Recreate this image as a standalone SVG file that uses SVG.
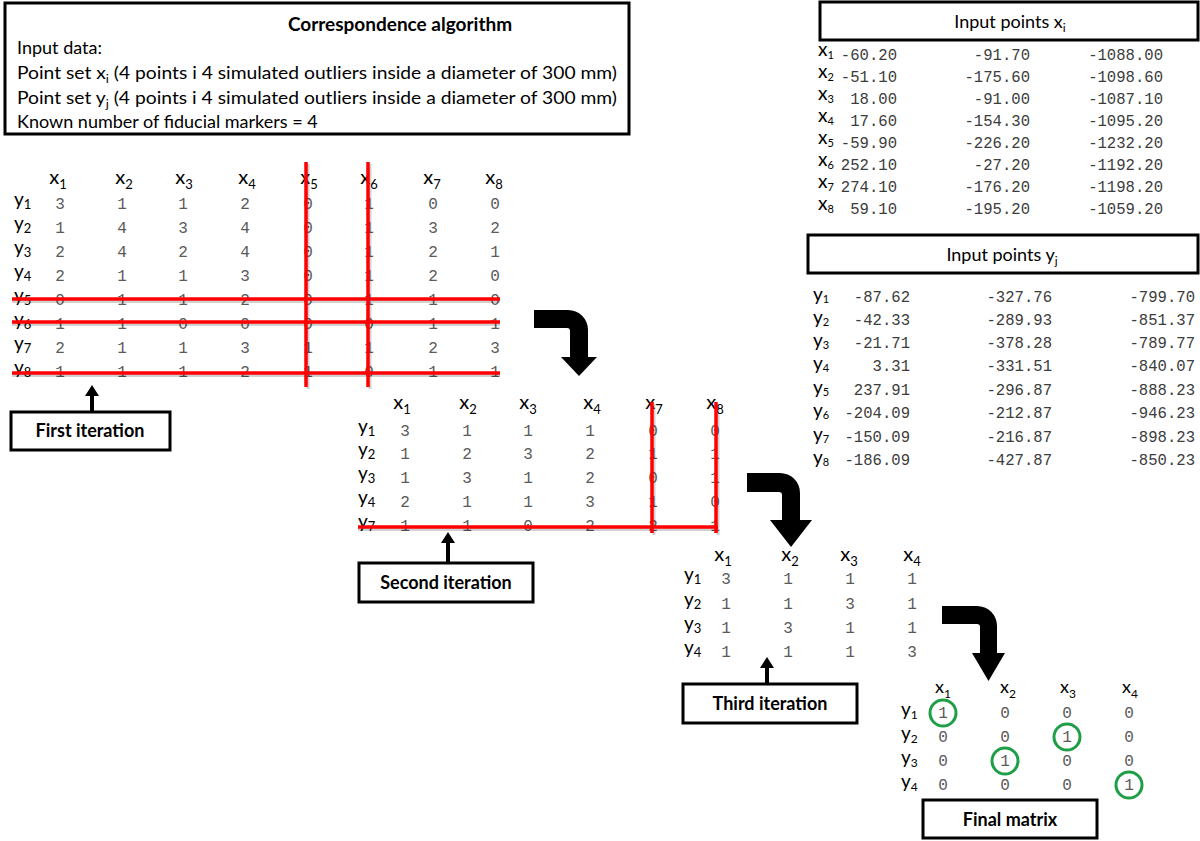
<svg xmlns="http://www.w3.org/2000/svg" width="1200" height="841" viewBox="0 0 1200 841">
<style>
.box{fill:#fff;stroke:#000;stroke-width:3}
.t{font-family:Lato,"Liberation Sans",sans-serif;fill:#000}
.b{font-weight:bold}
.h{font-family:Lato,"Liberation Sans",sans-serif;font-size:20px;fill:#000;text-anchor:middle}
.r{font-family:Lato,"Liberation Sans",sans-serif;font-size:19px;fill:#000}
.v{font-family:"Liberation Mono",monospace;font-size:16px;fill:#5a5a5a;text-anchor:middle}
.m{font-family:"Liberation Mono",monospace;font-size:15.6px;fill:#3c3c3c;text-anchor:end}
.red{stroke:#ff0000;stroke-width:3.5;fill:none}
.sh{stroke:#000;stroke-opacity:0.18;stroke-width:3;fill:none}
.circ{fill:none;stroke:#1f9e48;stroke-width:3}
</style>
<rect width="1200" height="841" fill="#fff"/>

<g id="header-box">
<rect class="box" x="5" y="3" width="624" height="131"/>
<text class="t b" x="400" y="31" font-size="19" text-anchor="middle">Correspondence algorithm</text>
<text class="t" x="17" y="54" font-size="18">Input data:</text>
<text class="t" x="17" y="79" font-size="18" textLength="600" lengthAdjust="spacingAndGlyphs">Point set x<tspan font-size="12" dy="4">i</tspan><tspan dy="-4"> (4 points i 4 simulated outliers inside a diameter of 300 mm)</tspan></text>
<text class="t" x="17" y="104" font-size="18" textLength="600" lengthAdjust="spacingAndGlyphs">Point set y<tspan font-size="12" dy="4">j</tspan><tspan dy="-4"> (4 points i 4 simulated outliers inside a diameter of 300 mm)</tspan></text>
<text class="t" x="17" y="128" font-size="18">Known number of fiducial markers = 4</text>
</g>

<g id="input-xi">
<rect class="box" x="820" y="2" width="378" height="38"/>
<text class="t" x="1010" y="28" font-size="18" text-anchor="middle">Input points x<tspan font-size="12" dy="4">i</tspan></text>
<g class="r" font-size="17">
<text x="818" y="56">x<tspan font-size="11" dy="3">1</tspan></text>
<text x="818" y="78">x<tspan font-size="11" dy="3">2</tspan></text>
<text x="818" y="100">x<tspan font-size="11" dy="3">3</tspan></text>
<text x="818" y="122">x<tspan font-size="11" dy="3">4</tspan></text>
<text x="818" y="144">x<tspan font-size="11" dy="3">5</tspan></text>
<text x="818" y="166">x<tspan font-size="11" dy="3">6</tspan></text>
<text x="818" y="188">x<tspan font-size="11" dy="3">7</tspan></text>
<text x="818" y="210">x<tspan font-size="11" dy="3">8</tspan></text>
</g>
<g class="m">
<text x="897" y="60">-60.20</text><text x="1030" y="60">-91.70</text><text x="1163" y="60">-1088.00</text>
<text x="897" y="82">-51.10</text><text x="1030" y="82">-175.60</text><text x="1163" y="82">-1098.60</text>
<text x="897" y="104">18.00</text><text x="1030" y="104">-91.00</text><text x="1163" y="104">-1087.10</text>
<text x="897" y="126">17.60</text><text x="1030" y="126">-154.30</text><text x="1163" y="126">-1095.20</text>
<text x="897" y="148">-59.90</text><text x="1030" y="148">-226.20</text><text x="1163" y="148">-1232.20</text>
<text x="897" y="170">252.10</text><text x="1030" y="170">-27.20</text><text x="1163" y="170">-1192.20</text>
<text x="897" y="192">274.10</text><text x="1030" y="192">-176.20</text><text x="1163" y="192">-1198.20</text>
<text x="897" y="214">59.10</text><text x="1030" y="214">-195.20</text><text x="1163" y="214">-1059.20</text>
</g>
</g>

<g id="input-yj">
<rect class="box" x="808" y="235" width="390" height="38"/>
<text class="t" x="1002" y="261" font-size="18" text-anchor="middle">Input points y<tspan font-size="12" dy="4">j</tspan></text>
<g class="r" font-size="17">
<text x="813" y="301">y<tspan font-size="11" dy="2">1</tspan></text>
<text x="813" y="324">y<tspan font-size="11" dy="2">2</tspan></text>
<text x="813" y="347">y<tspan font-size="11" dy="2">3</tspan></text>
<text x="813" y="370">y<tspan font-size="11" dy="2">4</tspan></text>
<text x="813" y="394">y<tspan font-size="11" dy="2">5</tspan></text>
<text x="813" y="417">y<tspan font-size="11" dy="2">6</tspan></text>
<text x="813" y="441">y<tspan font-size="11" dy="2">7</tspan></text>
<text x="813" y="464">y<tspan font-size="11" dy="2">8</tspan></text>
</g>
<g class="m">
<text x="910" y="302">-87.62</text><text x="1052" y="302">-327.76</text><text x="1195" y="302">-799.70</text>
<text x="910" y="325">-42.33</text><text x="1052" y="325">-289.93</text><text x="1195" y="325">-851.37</text>
<text x="910" y="348">-21.71</text><text x="1052" y="348">-378.28</text><text x="1195" y="348">-789.77</text>
<text x="910" y="371">3.31</text><text x="1052" y="371">-331.51</text><text x="1195" y="371">-840.07</text>
<text x="910" y="395">237.91</text><text x="1052" y="395">-296.87</text><text x="1195" y="395">-888.23</text>
<text x="910" y="418">-204.09</text><text x="1052" y="418">-212.87</text><text x="1195" y="418">-946.23</text>
<text x="910" y="442">-150.09</text><text x="1052" y="442">-216.87</text><text x="1195" y="442">-898.23</text>
<text x="910" y="465">-186.09</text><text x="1052" y="465">-427.87</text><text x="1195" y="465">-850.23</text>
</g>
</g>

<g id="matrix-1">
<g class="h">
<text x="58" y="184">x<tspan font-size="13" dy="5">1</tspan></text>
<text x="124" y="184">x<tspan font-size="13" dy="5">2</tspan></text>
<text x="184" y="184">x<tspan font-size="13" dy="5">3</tspan></text>
<text x="247" y="184">x<tspan font-size="13" dy="5">4</tspan></text>
<text x="309" y="184">x<tspan font-size="13" dy="5">5</tspan></text>
<text x="369" y="184">x<tspan font-size="13" dy="5">6</tspan></text>
<text x="432" y="184">x<tspan font-size="13" dy="5">7</tspan></text>
<text x="494" y="184">x<tspan font-size="13" dy="5">8</tspan></text>
</g>
<g class="r">
<text x="14" y="206">y<tspan font-size="13" dy="3">1</tspan></text>
<text x="14" y="230">y<tspan font-size="13" dy="3">2</tspan></text>
<text x="14" y="254">y<tspan font-size="13" dy="3">3</tspan></text>
<text x="14" y="278">y<tspan font-size="13" dy="3">4</tspan></text>
<text x="14" y="302">y<tspan font-size="13" dy="3">5</tspan></text>
<text x="14" y="326">y<tspan font-size="13" dy="3">6</tspan></text>
<text x="14" y="350">y<tspan font-size="13" dy="3">7</tspan></text>
<text x="14" y="374">y<tspan font-size="13" dy="3">8</tspan></text>
</g>
<g class="v">
<text y="209"><tspan x="60">3</tspan><tspan x="122">1</tspan><tspan x="183">1</tspan><tspan x="245">2</tspan><tspan x="308">0</tspan><tspan x="369">1</tspan><tspan x="433">0</tspan><tspan x="495">0</tspan></text>
<text y="233"><tspan x="60">1</tspan><tspan x="122">4</tspan><tspan x="183">3</tspan><tspan x="245">4</tspan><tspan x="308">0</tspan><tspan x="369">1</tspan><tspan x="433">3</tspan><tspan x="495">2</tspan></text>
<text y="257"><tspan x="60">2</tspan><tspan x="122">4</tspan><tspan x="183">2</tspan><tspan x="245">4</tspan><tspan x="308">0</tspan><tspan x="369">1</tspan><tspan x="433">2</tspan><tspan x="495">1</tspan></text>
<text y="281"><tspan x="60">2</tspan><tspan x="122">1</tspan><tspan x="183">1</tspan><tspan x="245">3</tspan><tspan x="308">0</tspan><tspan x="369">1</tspan><tspan x="433">2</tspan><tspan x="495">0</tspan></text>
<text y="305"><tspan x="60">0</tspan><tspan x="122">1</tspan><tspan x="183">1</tspan><tspan x="245">2</tspan><tspan x="308">0</tspan><tspan x="369">1</tspan><tspan x="433">1</tspan><tspan x="495">0</tspan></text>
<text y="329"><tspan x="60">1</tspan><tspan x="122">1</tspan><tspan x="183">0</tspan><tspan x="245">0</tspan><tspan x="308">0</tspan><tspan x="369">0</tspan><tspan x="433">1</tspan><tspan x="495">1</tspan></text>
<text y="353"><tspan x="60">2</tspan><tspan x="122">1</tspan><tspan x="183">1</tspan><tspan x="245">3</tspan><tspan x="308">1</tspan><tspan x="369">1</tspan><tspan x="433">2</tspan><tspan x="495">3</tspan></text>
<text y="377"><tspan x="60">1</tspan><tspan x="122">1</tspan><tspan x="183">1</tspan><tspan x="245">2</tspan><tspan x="308">1</tspan><tspan x="369">0</tspan><tspan x="433">1</tspan><tspan x="495">1</tspan></text>
</g>
</g>

<g id="matrix-2">
<g class="h">
<text x="402" y="409">x<tspan font-size="13" dy="5">1</tspan></text>
<text x="468" y="409">x<tspan font-size="13" dy="5">2</tspan></text>
<text x="528" y="409">x<tspan font-size="13" dy="5">3</tspan></text>
<text x="592" y="409">x<tspan font-size="13" dy="5">4</tspan></text>
<text x="654" y="409">x<tspan font-size="13" dy="5">7</tspan></text>
<text x="715" y="409">x<tspan font-size="13" dy="5">8</tspan></text>
</g>
<g class="r">
<text x="358" y="433">y<tspan font-size="13" dy="3">1</tspan></text>
<text x="358" y="456">y<tspan font-size="13" dy="3">2</tspan></text>
<text x="358" y="480">y<tspan font-size="13" dy="3">3</tspan></text>
<text x="358" y="504">y<tspan font-size="13" dy="3">4</tspan></text>
<text x="358" y="528">y<tspan font-size="13" dy="3">7</tspan></text>
</g>
<g class="v">
<text y="436"><tspan x="405">3</tspan><tspan x="467">1</tspan><tspan x="528">1</tspan><tspan x="590">1</tspan><tspan x="653">0</tspan><tspan x="715">0</tspan></text>
<text y="459"><tspan x="405">1</tspan><tspan x="467">2</tspan><tspan x="528">3</tspan><tspan x="590">2</tspan><tspan x="653">1</tspan><tspan x="715">1</tspan></text>
<text y="483"><tspan x="405">1</tspan><tspan x="467">3</tspan><tspan x="528">1</tspan><tspan x="590">2</tspan><tspan x="653">0</tspan><tspan x="715">1</tspan></text>
<text y="507"><tspan x="405">2</tspan><tspan x="467">1</tspan><tspan x="528">1</tspan><tspan x="590">3</tspan><tspan x="653">1</tspan><tspan x="715">0</tspan></text>
<text y="531"><tspan x="405">1</tspan><tspan x="467">1</tspan><tspan x="528">0</tspan><tspan x="590">2</tspan><tspan x="653">2</tspan><tspan x="715">1</tspan></text>
</g>
</g>

<g id="matrix-3">
<g class="h">
<text x="723" y="561">x<tspan font-size="13" dy="5">1</tspan></text>
<text x="790" y="561">x<tspan font-size="13" dy="5">2</tspan></text>
<text x="849" y="561">x<tspan font-size="13" dy="5">3</tspan></text>
<text x="912" y="561">x<tspan font-size="13" dy="5">4</tspan></text>
</g>
<g class="r">
<text x="684" y="581">y<tspan font-size="13" dy="3">1</tspan></text>
<text x="684" y="606">y<tspan font-size="13" dy="3">2</tspan></text>
<text x="684" y="630">y<tspan font-size="13" dy="3">3</tspan></text>
<text x="684" y="654">y<tspan font-size="13" dy="3">4</tspan></text>
</g>
<g class="v">
<text y="584"><tspan x="726">3</tspan><tspan x="788">1</tspan><tspan x="850">1</tspan><tspan x="912">1</tspan></text>
<text y="609"><tspan x="726">1</tspan><tspan x="788">1</tspan><tspan x="850">3</tspan><tspan x="912">1</tspan></text>
<text y="633"><tspan x="726">1</tspan><tspan x="788">3</tspan><tspan x="850">1</tspan><tspan x="912">1</tspan></text>
<text y="657"><tspan x="726">1</tspan><tspan x="788">1</tspan><tspan x="850">1</tspan><tspan x="912">3</tspan></text>
</g>
</g>

<g id="final-matrix">
<g class="h" font-size="18">
<text x="943" y="693" font-size="18">x<tspan font-size="12" dy="5">1</tspan></text>
<text x="1008" y="693" font-size="18">x<tspan font-size="12" dy="5">2</tspan></text>
<text x="1068" y="693" font-size="18">x<tspan font-size="12" dy="5">3</tspan></text>
<text x="1130" y="693" font-size="18">x<tspan font-size="12" dy="5">4</tspan></text>
</g>
<g class="r" font-size="17">
<text x="901" y="716">y<tspan font-size="12" dy="3">1</tspan></text>
<text x="901" y="740">y<tspan font-size="12" dy="3">2</tspan></text>
<text x="901" y="764">y<tspan font-size="12" dy="3">3</tspan></text>
<text x="901" y="788">y<tspan font-size="12" dy="3">4</tspan></text>
</g>
<g class="v" font-size="15">
<text y="718"><tspan x="943">1</tspan><tspan x="1005">0</tspan><tspan x="1067">0</tspan><tspan x="1129">0</tspan></text>
<text y="742"><tspan x="943">0</tspan><tspan x="1005">0</tspan><tspan x="1067">1</tspan><tspan x="1129">0</tspan></text>
<text y="766"><tspan x="943">0</tspan><tspan x="1005">1</tspan><tspan x="1067">0</tspan><tspan x="1129">0</tspan></text>
<text y="790"><tspan x="943">0</tspan><tspan x="1005">0</tspan><tspan x="1067">0</tspan><tspan x="1129">1</tspan></text>
</g>
<circle class="circ" cx="943" cy="713" r="13"/>
<circle class="circ" cx="1067" cy="737" r="13"/>
<circle class="circ" cx="1005" cy="761" r="13"/>
<circle class="circ" cx="1129" cy="785" r="13"/>
</g>

<g id="label-first">
<rect class="box" x="11" y="412" width="159" height="38"/>
<text class="t b" x="90" y="437" font-size="18" text-anchor="middle">First iteration</text>
</g>
<g id="label-second">
<rect class="box" x="359" y="563" width="174" height="39"/>
<text class="t b" x="446" y="589" font-size="18" text-anchor="middle">Second iteration</text>
</g>
<g id="label-third">
<rect class="box" x="683" y="684" width="174" height="39"/>
<text class="t b" x="770" y="710" font-size="18" text-anchor="middle">Third iteration</text>
</g>
<g id="label-final">
<rect class="box" x="923" y="800" width="174" height="38"/>
<text class="t b" x="1010" y="826" font-size="18" text-anchor="middle">Final matrix</text>
</g>

<g id="connectors">
<g id="red-lines">
<path class="sh" d="M12,301.5H500M12,324.5H500M12,375.5H500M308,164V389M370,164V389"/>
<path class="red" d="M12,299H500M12,322H500M12,373H500M306,162V387M368,162V387"/>
<path class="sh" d="M358,529.5H718M654,404V535M718,404V535"/>
<path class="red" d="M358,527H718M652,402V533M716,402V533"/>
</g>
<g id="turn-arrows" fill="#000">
<path d="M534,310H568A20,20 0 0 1 588,330V357H597L579,376L561,357H570V331Q570,328 567,328H534Z"/>
<path d="M747,473H780A20,20 0 0 1 800,493V520H812L791,547L770,520H782V495Q782,492 779,492H747Z"/>
<path d="M942,606H977A20,20 0 0 1 997,626V653H1005L988.5,681L972,653H980V627Q980,624 977,624H942Z"/>
</g>
<g id="up-arrows" fill="#000">
<path d="M92,385L99,396H94V412H90V396H85Z"/>
<path d="M448,532L455,543H450V563H446V543H441Z"/>
<path d="M767,657L774,668H769V684H765V668H760Z"/>
</g>
</g>
</svg>
